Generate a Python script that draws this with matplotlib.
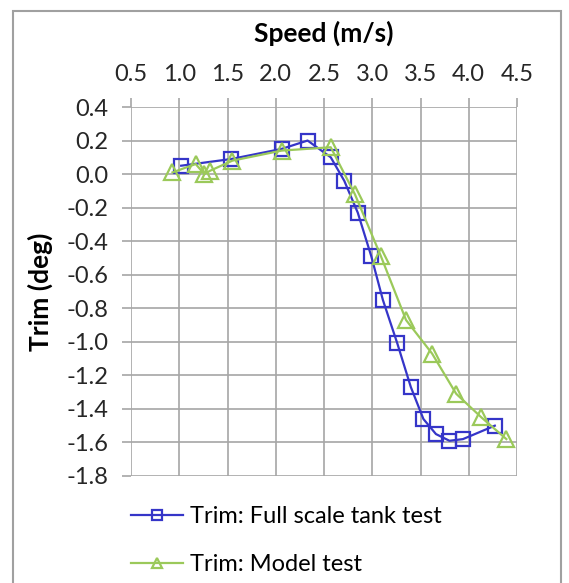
import matplotlib
matplotlib.use("Agg")
import matplotlib.pyplot as plt
from matplotlib.patches import Rectangle

# Datos
vel_full = [1.02, 1.54, 2.06, 2.33, 2.57, 2.71, 2.85, 2.99, 3.11, 3.26, 3.40, 3.53, 3.66, 3.80, 3.94, 4.27]
trim_full = [0.05, 0.09, 0.15, 0.20, 0.10, -0.04, -0.23, -0.49, -0.75, -1.01, -1.27, -1.46, -1.55, -1.59, -1.58, -1.50]

vel_model = [0.93, 1.17, 1.26, 1.32, 1.55, 2.06, 2.57, 2.82, 3.09, 3.35, 3.62, 3.87, 4.13, 4.39]
trim_model = [0.01, 0.06, 0.00, 0.02, 0.08, 0.14, 0.16, -0.12, -0.49, -0.87, -1.07, -1.31, -1.45, -1.58]

x_ticks = [0.5, 1.0, 1.5, 2.0, 2.5, 3.0, 3.5, 4.0, 4.5]
y_ticks = [0.4, 0.2, 0.0, -0.2, -0.4, -0.6, -0.8, -1.0, -1.2, -1.4, -1.6, -1.8]

azul = "#3535C8"
verde = "#9BC95A"
gris = "#A6A6A6"

plt.rcParams["font.family"] = ["Lato", "DejaVu Sans"]

fig = plt.figure(figsize=(5.69, 5.83), dpi=100)
fig.patches.append(Rectangle((13 / 569, -0.01), 548 / 569, 1.01 - 11 / 583, transform=fig.transFigure,
                             fill=False, edgecolor="#A0A0A0", linewidth=1.5))
ax = fig.add_axes([131 / 569, 1 - 476 / 583, 386 / 569, 369 / 583])

ax.plot(vel_full, trim_full, color=azul, lw=1.6, marker="s", markersize=10,
        markerfacecolor="none", markeredgewidth=1.6, label="Trim: Full scale tank test", zorder=3)
ax.plot(vel_model, trim_model, color=verde, lw=1.6, marker="^", markersize=11,
        markerfacecolor="none", markeredgewidth=1.6, label="Trim: Model test", zorder=4)

ax.set_xlim(0.5, 4.5)
ax.set_ylim(-1.8, 0.4)
ax.set_xticks(x_ticks)
ax.set_yticks(y_ticks)
ax.set_xticklabels([f"{v:.1f}" for v in x_ticks])
ax.set_yticklabels([f"{v:.1f}" for v in y_ticks])
ax.xaxis.tick_top()
ax.xaxis.set_label_position("top")
ax.tick_params(axis="both", labelsize=17, color=gris, length=6.5, width=1.2, direction="out",
               labelcolor="#262626")
ax.tick_params(axis="x", pad=9)
ax.tick_params(axis="y", pad=10)
for s in ax.spines.values():
    s.set_visible(False)
ax.grid(True, color=gris, linewidth=1.2)
ax.set_axisbelow(True)

ax.set_xlabel("Speed (m/s)", fontsize=19, fontweight="bold")
ax.set_ylabel("Trim (deg)", fontsize=19, fontweight="bold")
ax.xaxis.label.set_va("center")
ax.yaxis.label.set_va("center")
ax.xaxis.set_label_coords(0.5, 1 + 74 / 369)
ax.yaxis.set_label_coords(-91 / 386, 0.5)

ax.legend(loc="upper left", bbox_to_anchor=(0, -0.082), frameon=False, fontsize=17,
          handlelength=2.2, handletextpad=0.3, labelspacing=1.15, borderpad=0, borderaxespad=0,
          markerscale=0.7)

fig.savefig("out.png", dpi=100)
